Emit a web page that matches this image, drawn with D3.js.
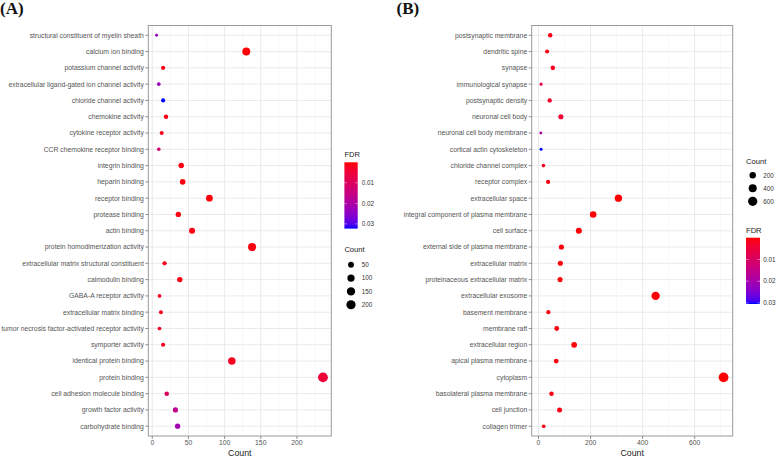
<!DOCTYPE html>
<html><head><meta charset="utf-8">
<script src="https://cdn.jsdelivr.net/npm/d3@7"></script>
<style>body{margin:0;background:#fff}svg{display:block}</style></head>
<body><svg id="c" width="777" height="456"></svg>
<script>
// ---------- Data: panel A (molecular function) ----------
const termsA = ["structural constituent of myelin sheath","calcium ion binding","potassium channel activity",
"extracellular ligand-gated ion channel activity","chloride channel activity","chemokine activity",
"cytokine receptor activity","CCR chemokine receptor binding","integrin binding","heparin binding",
"receptor binding","protease binding","actin binding","protein homodimerization activity",
"extracellular matrix structural constituent","calmodulin binding","GABA-A receptor activity",
"extracellular matrix binding","tumor necrosis factor-activated receptor activity","symporter activity",
"identical protein binding","protein binding","cell adhesion molecule binding","growth factor activity",
"carbohydrate binding"];
const countA = [6,130,15,9,15,19,13,9,40,42,79,36,55,138,17,38,10,12,10,15,110,236,20,32,35];
const fdrA = [0.024,0.0003,0.001,0.023,0.0323,0.001,0.002,0.012,0.001,0.001,0.0005,0.001,0.001,0.001,
0.002,0.001,0.003,0.002,0.003,0.002,0.002,0.005,0.01,0.017,0.022];
const sizeTicksA = [50,100,150,200];
const xTicksA = [0,50,100,150,200];
const xMinorA = [25,75,125,175,225];

// ---------- Data: panel B (cellular component) ----------
const termsB = ["postsynaptic membrane","dendritic spine","synapse","immunological synapse","postsynaptic density",
"neuronal cell body","neuronal cell body membrane","cortical actin cytoskeleton","chloride channel complex",
"receptor complex","extracellular space","integral component of plasma membrane","cell surface",
"external side of plasma membrane","extracellular matrix","proteinaceous extracellular matrix",
"extracellular exosome","basement membrane","membrane raft","extracellular region","apical plasma membrane",
"cytoplasm","basolateral plasma membrane","cell junction","collagen trimer"];
const countB = [45,33,55,10,43,86,9,10,19,37,307,210,155,88,84,83,450,38,70,137,68,711,50,81,20];
const fdrB = [0.001,0.001,0.002,0.007,0.003,0.004,0.018,0.0305,0.002,0.001,0.0001,0.0005,0.0001,0.0005,
0.0005,0.0005,0.0001,0.001,0.001,0.0005,0.001,0.0001,0.001,0.001,0.001];
const sizeTicksB = [200,400,600];
const xTicksB = [0,200,400,600];
const xMinorB = [100,300,500,700];
const fdrTicks = [0.01,0.02,0.03];

const svg = d3.select("#c");
const defs = svg.append("defs");
const FONT = "Liberation Sans, Arial, sans-serif";

function panel(cfg){
  const {terms,count,fdr,left,right,top,bottom,label,labelX,xTicks,xMinor,sizeTicks,legend,id} = cfg;
  const g = svg.append("g");
  const ext = d3.extent(count);
  const pad = (ext[1]-ext[0])*0.05;
  const x = d3.scaleLinear().domain([ext[0]-pad, ext[1]+pad]).range([left,right]);
  const y = d3.scalePoint().domain(terms).range([top,bottom]).padding(0.6);
  const fExt = [0, d3.max(fdr)];
  const col = d3.scaleLinear().domain(fExt).range(["#ff0000","#0000ff"]).interpolate(d3.interpolateLab);
  const tS = d3.scaleLinear().domain(ext).range([0,1]);
  const r = v => 1.4 + 3.5*Math.sqrt(Math.max(0,tS(v)));

  // grid
  g.selectAll(".mn").data(xMinor.filter(v=>x(v)>left&&x(v)<right)).enter().append("line")
    .attr("x1",d=>x(d)).attr("x2",d=>x(d)).attr("y1",top).attr("y2",bottom)
    .attr("stroke","#f3f3f3").attr("stroke-width",0.6);
  g.selectAll(".mj").data(xTicks).enter().append("line")
    .attr("x1",d=>x(d)).attr("x2",d=>x(d)).attr("y1",top).attr("y2",bottom)
    .attr("stroke","#e8e8e8").attr("stroke-width",0.9);
  g.selectAll(".hy").data(terms).enter().append("line")
    .attr("x1",left).attr("x2",right).attr("y1",d=>y(d)).attr("y2",d=>y(d))
    .attr("stroke","#e8e8e8").attr("stroke-width",0.9);

  // points
  g.selectAll(".pt").data(terms).enter().append("circle")
    .attr("cx",(d,i)=>x(count[i])).attr("cy",d=>y(d)).attr("r",(d,i)=>r(count[i]))
    .attr("fill",(d,i)=>col(fdr[i]));

  // border
  g.append("rect").attr("x",left).attr("y",top).attr("width",right-left).attr("height",bottom-top)
    .attr("fill","none").attr("stroke","#9a9a9a").attr("stroke-width",1);

  // y axis ticks + labels
  g.selectAll(".yt").data(terms).enter().append("line")
    .attr("x1",left-3).attr("x2",left).attr("y1",d=>y(d)).attr("y2",d=>y(d))
    .attr("stroke","#777").attr("stroke-width",0.8);
  g.selectAll(".yl").data(terms).enter().append("text")
    .attr("x",left-4.5).attr("y",d=>y(d)).attr("dy","0.35em").attr("text-anchor","end")
    .attr("font-family",FONT).attr("font-size",6.8).attr("fill","#555").text(d=>d);
  // x axis
  g.selectAll(".xt").data(xTicks).enter().append("line")
    .attr("x1",d=>x(d)).attr("x2",d=>x(d)).attr("y1",bottom).attr("y2",bottom+3)
    .attr("stroke","#777").attr("stroke-width",0.8);
  g.selectAll(".xl").data(xTicks).enter().append("text")
    .attr("x",d=>x(d)).attr("y",bottom+9).attr("text-anchor","middle")
    .attr("font-family",FONT).attr("font-size",6.8).attr("fill","#555").text(d=>d);
  g.append("text").attr("x",(left+right)/2).attr("y",bottom+19.5).attr("text-anchor","middle")
    .attr("font-family",FONT).attr("font-size",8.8).attr("fill","#222").text("Count");

  // panel label
  svg.append("text").attr("x",labelX).attr("y",13.5).attr("font-family","Liberation Serif, Times New Roman, serif")
    .attr("font-weight","bold").attr("font-size",17).attr("fill","#111").text(label);

  // legends
  const L = legend;
  const gid = "grad"+id;
  const grad = defs.append("linearGradient").attr("id",gid).attr("x1",0).attr("y1",0).attr("x2",0).attr("y2",1);
  d3.range(0,1.0001,0.05).forEach(t=>{
    grad.append("stop").attr("offset",t).attr("stop-color",col(fExt[0]+t*(fExt[1]-fExt[0])));
  });
  const by = d3.scaleLinear().domain(fExt).range([L.barTop,L.barBottom]);
  g.append("text").attr("x",L.x).attr("y",L.fdrTitleY).attr("font-family",FONT).attr("font-size",7.6)
    .attr("fill","#222").text("FDR");
  g.append("rect").attr("x",L.x).attr("y",L.barTop).attr("width",L.barW).attr("height",L.barBottom-L.barTop)
    .attr("fill","url(#"+gid+")");
  fdrTicks.forEach(v=>{
    g.append("line").attr("x1",L.x).attr("x2",L.x+2.5).attr("y1",by(v)).attr("y2",by(v)).attr("stroke","#fff").attr("stroke-width",0.6).attr("opacity",0.8);
    g.append("line").attr("x1",L.x+L.barW-2.5).attr("x2",L.x+L.barW).attr("y1",by(v)).attr("y2",by(v)).attr("stroke","#fff").attr("stroke-width",0.6).attr("opacity",0.8);
  });
  g.selectAll(".ft").data(fdrTicks).enter().append("text")
    .attr("x",L.labX).attr("y",d=>by(d)).attr("dy","0.35em").attr("font-family",FONT).attr("font-size",6.3)
    .attr("fill","#333").text(d=>d.toFixed(2));
  g.append("text").attr("x",L.x).attr("y",L.cntTitleY).attr("font-family",FONT).attr("font-size",7.6)
    .attr("fill","#222").text("Count");
  sizeTicks.forEach((v,i)=>{
    const cy = L.dot0 + i*L.dotStep;
    g.append("circle").attr("cx",L.dotX).attr("cy",cy).attr("r",r(v)).attr("fill","#000");
    g.append("text").attr("x",L.labX).attr("y",cy).attr("dy","0.35em").attr("font-family",FONT)
      .attr("font-size",6.3).attr("fill","#333").text(v);
  });
}

panel({id:"A",terms:termsA,count:countA,fdr:fdrA,left:148.3,right:331.3,top:25.5,bottom:436,
  label:"(A)",labelX:0,xTicks:xTicksA,xMinor:xMinorA,sizeTicks:sizeTicksA,
  legend:{x:344.4,barW:13.3,barTop:162.3,barBottom:228.6,fdrTitleY:157,labX:361.7,
    cntTitleY:252,dotX:351,dot0:264.7,dotStep:13.35}});
panel({id:"B",terms:termsB,count:countB,fdr:fdrB,left:531.7,right:732.7,top:25.5,bottom:436,
  label:"(B)",labelX:396.5,xTicks:xTicksB,xMinor:xMinorB,sizeTicks:sizeTicksB,
  legend:{x:746,barW:14,barTop:237.7,barBottom:304,fdrTitleY:232.5,labX:763.3,
    cntTitleY:163.5,dotX:752.7,dot0:175.3,dotStep:13}});
</script></body></html>
